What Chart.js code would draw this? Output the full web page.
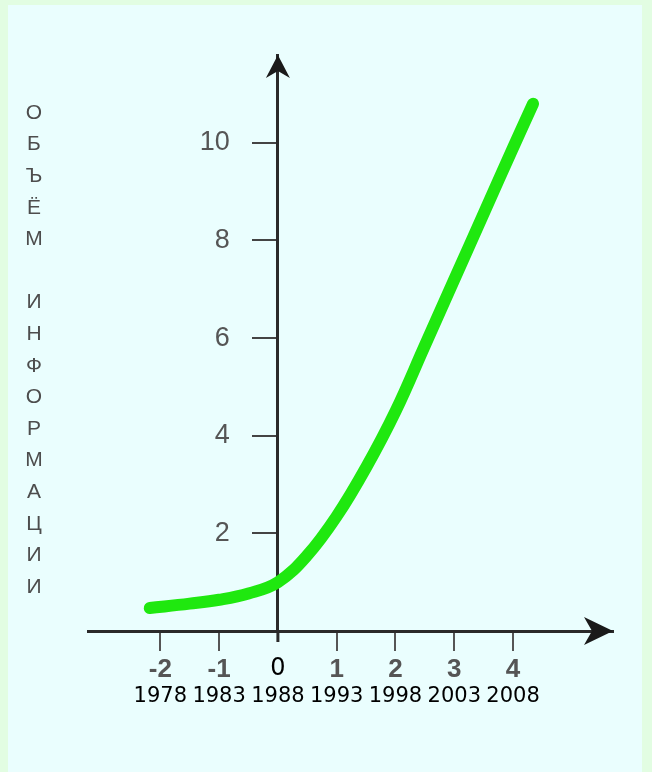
<!DOCTYPE html>
<html>
<head>
<meta charset="utf-8">
<script src="https://cdn.jsdelivr.net/npm/chart.js@4"></script>
<style>
  html, body { margin: 0; padding: 0; }
  body { width: 652px; height: 772px; background: #e2fde2; position: relative; overflow: hidden; }
  #panel { position: absolute; left: 8px; top: 5px; right: 10px; bottom: 0; background: #eafefe; }
  #c { position: absolute; left: 0; top: 0; }
</style>
</head>
<body>
<div id="panel"></div>
<canvas id="c" width="652" height="772"></canvas>
<script>
// ---- data ----
const curveX = [-2.18, -1.5, -1, -0.5, 0, 0.5, 1, 1.5, 2, 2.5, 3, 3.5, 4, 4.34];
const curveY = [0.47, 0.56, 0.64, 0.77, 1.0, 1.55, 2.35, 3.35, 4.5, 5.85, 7.2, 8.55, 9.9, 10.8];
const xTickValues = [-2, -1, 0, 1, 2, 3, 4];
const xTickLabels = ['-2', '-1', '0', '1', '2', '3', '4'];
const yearLabels = ['1978', '1983', '1988', '1993', '1998', '2003', '2008'];
const yTickValues = [2, 4, 6, 8, 10];
const yTitleLetters = ['О', 'Б', 'Ъ', 'Ё', 'М', '', 'И', 'Н', 'Ф', 'О', 'Р', 'М', 'А', 'Ц', 'И', 'И'];

const points = curveX.map((x, i) => ({ x: x, y: curveY[i] }));

const decorPlugin = {
  id: 'decor',
  afterDraw(chart) {
    const ctx = chart.ctx;
    const xs = chart.scales.x, ys = chart.scales.y;
    const ax = xs.getPixelForValue(0);
    const ay = ys.getPixelForValue(0);
    const top = chart.chartArea.top;
    const right = chart.chartArea.right;
    ctx.save();
    ctx.fillStyle = '#1a1a1a';
    ctx.strokeStyle = '#2a2a2a';
    // y axis small extension below x axis
    ctx.lineWidth = 3;
    ctx.beginPath();
    ctx.moveTo(ax, ay);
    ctx.lineTo(ax, ay + 11);
    ctx.stroke();
    // up arrow
    ctx.beginPath();
    ctx.moveTo(ax, top);
    ctx.lineTo(ax + 12, top + 23);
    ctx.lineTo(ax, top + 16);
    ctx.lineTo(ax - 12, top + 23);
    ctx.closePath();
    ctx.fill();
    // right arrow
    ctx.beginPath();
    ctx.moveTo(right, ay);
    ctx.lineTo(right - 29, ay - 14);
    ctx.lineTo(right - 21, ay);
    ctx.lineTo(right - 29, ay + 14);
    ctx.closePath();
    ctx.fill();
    // vertical stacked axis title
    ctx.fillStyle = '#4d4d4d';
    ctx.font = '21px "Liberation Sans", Arial, sans-serif';
    ctx.textAlign = 'center';
    ctx.textBaseline = 'middle';
    yTitleLetters.forEach((ch, i) => {
      if (ch) ctx.fillText(ch, 34, 113 + 31.6 * i);
    });
    ctx.restore();
  }
};

const xMin = -3.23, xMax = 5.70, yMin = 0, yMax = 11.8;

new Chart(document.getElementById('c'), {
  type: 'line',
  data: {
    datasets: [{
      data: points,
      borderColor: '#1fe80f',
      borderWidth: 12,
      borderCapStyle: 'round',
      borderJoinStyle: 'round',
      tension: 0.4,
      pointRadius: 0,
      fill: false,
      clip: false,
      yAxisID: 'y'
    }]
  },
  options: {
    responsive: false,
    animation: false,
    layout: { padding: { left: 88, right: 39, top: 55, bottom: 53 } },
    plugins: { legend: { display: false }, tooltip: { enabled: false }, title: { display: false } },
    scales: {
      x: {
        type: 'linear',
        position: 'bottom',
        min: xMin,
        max: xMax,
        afterBuildTicks: (axis) => { axis.ticks = xTickValues.map(v => ({ value: v })); },
        afterFit: (axis) => { axis.height = 48; },
        grid: {
          drawOnChartArea: false,
          drawTicks: true,
          tickLength: 20,
          lineWidth: 2,
          color: (ctx) => (ctx.tick && ctx.tick.value === 0) ? 'rgba(0,0,0,0)' : '#555555'
        },
        border: { display: true, color: '#2a2a2a', width: 3 },
        ticks: {
          autoSkip: false,
          maxRotation: 0,
          padding: 3,
          callback: (v, i) => xTickLabels[i],
          color: (ctx) => (ctx.tick && ctx.tick.value === 0) ? '#000000' : '#555555',
          font: (ctx) => (ctx.tick && ctx.tick.value === 0)
            ? { family: '"DejaVu Sans", sans-serif', size: 24, weight: 'normal' }
            : { family: '"Liberation Sans", Arial, sans-serif', size: 26, weight: 'bold' }
        }
      },
      x2: {
        type: 'linear',
        axis: 'x',
        position: 'bottom',
        min: xMin,
        max: xMax,
        afterBuildTicks: (axis) => { axis.ticks = xTickValues.map(v => ({ value: v })); },
        afterFit: (axis) => { axis.height = 40; },
        grid: { display: false, drawTicks: false, drawOnChartArea: false },
        border: { display: false },
        ticks: {
          autoSkip: false,
          maxRotation: 0,
          padding: 5,
          callback: (v, i) => yearLabels[i],
          color: '#000000',
          font: { family: '"DejaVu Sans", sans-serif', size: 21 }
        }
      },
      y: {
        type: 'linear',
        position: { x: 0 },
        min: yMin,
        max: yMax,
        afterBuildTicks: (axis) => { axis.ticks = yTickValues.map(v => ({ value: v })); },
        grid: {
          drawOnChartArea: false,
          drawTicks: true,
          tickLength: 24,
          lineWidth: 2,
          color: '#444444'
        },
        border: { display: true, color: '#2a2a2a', width: 3 },
        ticks: { display: false }
      },
      yLabels: {
        type: 'linear',
        axis: 'y',
        position: { x: -0.82 },
        min: yMin,
        max: yMax,
        afterBuildTicks: (axis) => { axis.ticks = yTickValues.map(v => ({ value: v })); },
        grid: { display: false, drawTicks: false, drawOnChartArea: false },
        border: { display: false },
        ticks: {
          padding: 0,
          color: '#555555',
          font: { family: '"Liberation Sans", Arial, sans-serif', size: 27 }
        }
      }
    }
  },
  plugins: [decorPlugin]
});
</script>
</body>
</html>
